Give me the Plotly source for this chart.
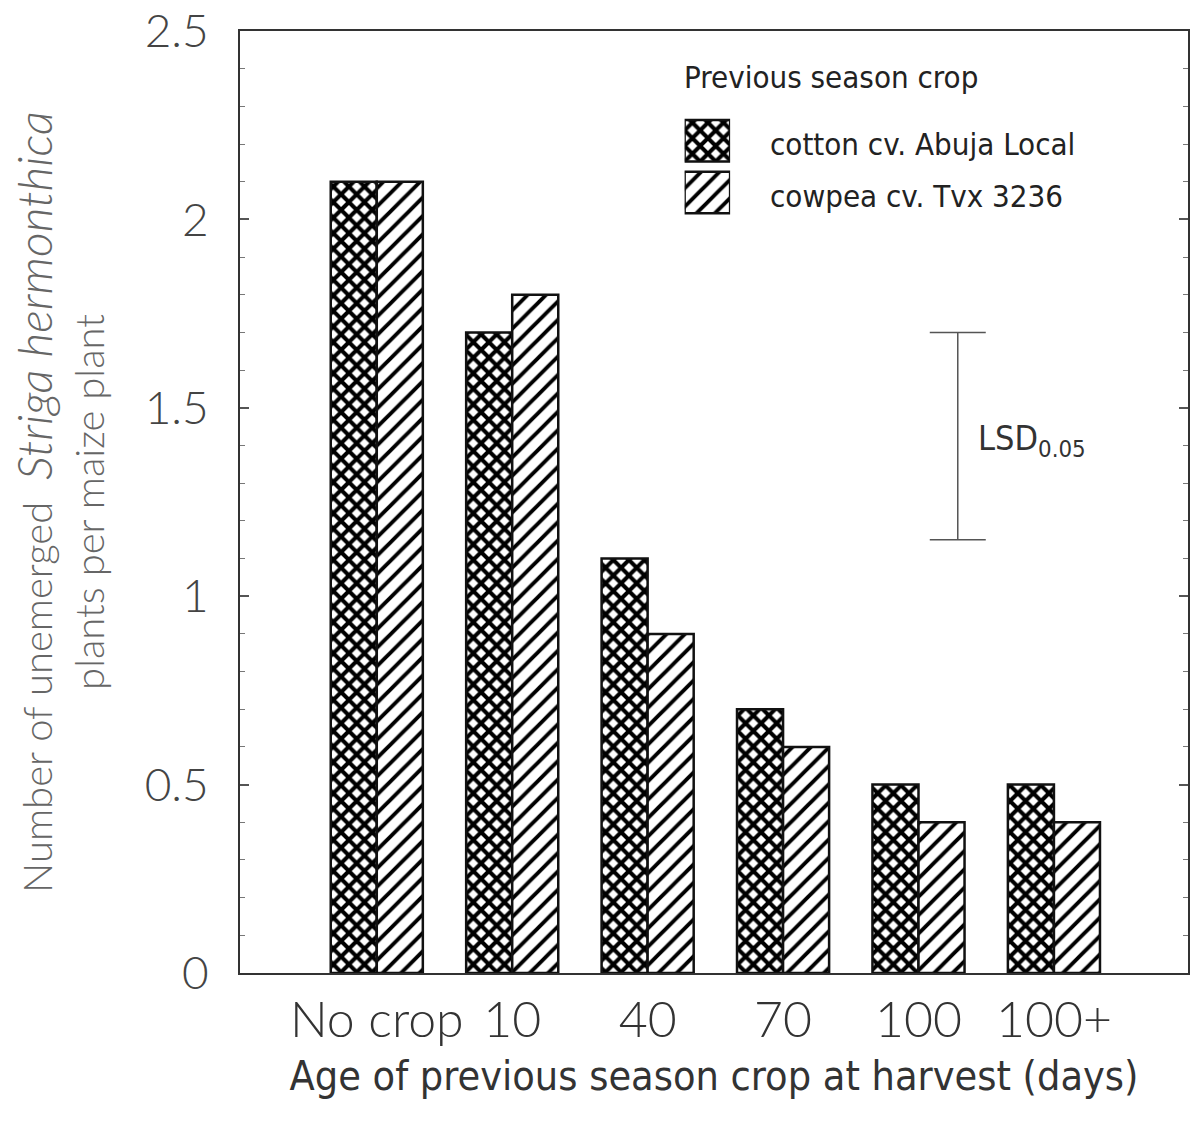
import plotly.graph_objects as go

categories = ["No crop", "10", "40", "70", "100", "100+"]
series_names = ["cotton cv. Abuja Local", "cowpea cv. Tvx 3236"]
cotton = [2.1, 1.7, 1.1, 0.7, 0.5, 0.5]
cowpea = [2.1, 1.8, 0.9, 0.6, 0.4, 0.4]
lsd_low, lsd_high = 1.15, 1.7
y_tickvals = [0, 0.5, 1, 1.5, 2, 2.5]
y_ticktext = ["0", "0.5", "1", "1.5", "2", "2.5"]

NARROW = "DejaVu Sans Condensed, Roboto, sans-serif"
LIGHT = "Lato, Roboto, sans-serif"

pat_cotton = dict(shape="x", fgcolor="#000", fgopacity=1, bgcolor="white", size=11, solidity=0.6)
pat_cowpea = dict(shape="/", fgcolor="#000", fgopacity=1, bgcolor="white", size=13, solidity=0.3)

xpos = list(range(len(categories)))
fig = go.Figure()
fig.add_trace(go.Bar(x=xpos, y=cotton, name=series_names[0], marker=dict(color="white", pattern=pat_cotton, line=dict(color="#111", width=2.5)), showlegend=False))
fig.add_trace(go.Bar(x=xpos, y=cowpea, name=series_names[1], marker=dict(color="white", pattern=pat_cowpea, line=dict(color="#111", width=2.5)), showlegend=False))

# LSD bar
lsd_x = 4.29
fig.add_trace(go.Scatter(x=[lsd_x], y=[(lsd_low + lsd_high) / 2], mode="markers",
                         marker=dict(size=1, color="rgba(0,0,0,0)"),
                         error_y=dict(type="data", array=[(lsd_high - lsd_low) / 2], color="#555", thickness=1.5, width=28),
                         showlegend=False, hoverinfo="skip"))
fig.add_annotation(x=lsd_x, y=(lsd_low + lsd_high) / 2, xref="x", yref="y", xanchor="left", xshift=18, yshift=-4,
                   text="LSD<sub>0.05</sub>", showarrow=False, font=dict(family=NARROW, size=34, color="#333"))

# legend inset
fig.add_trace(go.Bar(x=[1], y=[0], orientation="h", width=0.8, xaxis="x2", yaxis="y2",
                     marker=dict(color="white", pattern=pat_cotton, line=dict(color="#111", width=2.5)), showlegend=False, hoverinfo="skip"))
fig.add_trace(go.Bar(x=[1], y=[1], orientation="h", width=0.8, xaxis="x2", yaxis="y2",
                     marker=dict(color="white", pattern=pat_cowpea, line=dict(color="#111", width=2.5)), showlegend=False, hoverinfo="skip"))
for i, nm in enumerate(series_names):
    fig.add_annotation(x=1, y=i, xref="x2", yref="y2", xanchor="left", xshift=38, yshift=-3, text=nm, showarrow=False,
                       font=dict(family=NARROW, size=31, color="#222"))
fig.add_annotation(x=0, y=-0.5, xref="x2", yref="y2", xanchor="left", yanchor="bottom", yshift=18, xshift=-3,
                   text="Previous season crop", showarrow=False, font=dict(family=NARROW, size=31, color="#222"))

fig.update_layout(
    width=1193, height=1128,
    margin=dict(l=240, r=5, t=31, b=155),
    paper_bgcolor="white", plot_bgcolor="white",
    barmode="group", bargap=0.32, bargroupgap=0,
    xaxis=dict(range=[-1.01, 5.99], tickvals=xpos, ticktext=categories, showgrid=False, zeroline=False,
               showline=True, linecolor="#333", linewidth=2, mirror=True, ticks="", automargin=False,
               ticklabelstandoff=2,
               tickfont=dict(family=LIGHT, size=50, color="#333", weight=300),
               title=dict(text="Age of previous season crop at harvest (days)", standoff=14,
                          font=dict(family=NARROW, size=41, color="#333"))),
    yaxis=dict(range=[0, 2.5001], tickvals=y_tickvals, ticktext=y_ticktext, showgrid=False, zeroline=False,
               showline=True, linecolor="#333", linewidth=2, mirror="ticks", ticks="inside", ticklen=9,
               tickcolor="#555", tickwidth=1.5, automargin=False, ticklabelstandoff=20, ticklabeloverflow="allow",
               minor=dict(dtick=0.1, ticks="inside", ticklen=5, tickcolor="#777", tickwidth=1),
               tickfont=dict(family=LIGHT, size=46, color="#444", weight=300),
               title=dict(text="Number of unemerged  <span style='font-size:48px'><i>Striga hermonthica</i></span><br>plants per maize plant", standoff=28,
                          font=dict(family=LIGHT, size=40, color="#666", weight=300))),
    xaxis2=dict(domain=[0.469, 0.517], range=[0, 1], anchor="y2", visible=False, fixedrange=True),
    yaxis2=dict(domain=[0.801, 0.911], range=[1.5, -0.5], anchor="x2", visible=False, fixedrange=True),
)

fig.write_html("out.html", config={"displayModeBar": False},
               post_script="document.body.style.margin='0';")
